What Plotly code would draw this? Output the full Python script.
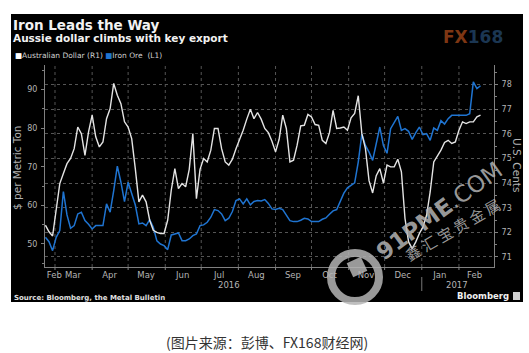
import math
import pandas as pd
import plotly.graph_objects as go

# ---------------- data ----------------
dates = pd.date_range("2016-02-22", periods=122, freq="3D")

aud_cents = [
    72.29, 72.02, 71.85, 72.83, 73.98, 74.39, 74.79, 75.00, 75.40, 76.28,
    76.01, 75.13, 76.08, 76.76, 75.88, 75.47, 75.67, 76.62, 77.03, 78.05,
    77.57, 77.23, 76.49, 76.28, 75.81, 74.59, 73.24, 73.51, 73.24, 72.49,
    72.08, 72.00, 71.95, 71.95, 72.49, 73.71, 74.59, 73.78, 73.98, 73.85,
    74.56, 76.01, 73.37, 74.56, 75.00, 74.86, 75.34, 76.22, 76.22, 75.40,
    74.86, 74.73, 74.97, 75.40, 75.74, 76.15, 76.60, 77.00, 76.62, 76.87,
    76.60, 76.22, 76.05, 75.70, 75.27, 75.78, 76.76, 76.22, 74.86, 74.93,
    75.54, 76.33, 76.35, 76.79, 76.69, 76.38, 76.35, 75.74, 75.61, 76.05,
    76.96, 76.22, 76.24, 76.28, 76.15, 76.65, 76.83, 77.55, 76.01, 75.40,
    74.10, 73.60, 74.30, 74.59, 74.00, 74.73, 74.66, 74.66, 74.97, 74.46,
    72.56, 71.61, 71.34, 71.61, 71.95, 72.22, 72.69, 73.64, 74.86, 75.10,
    75.34, 75.65, 75.74, 75.61, 75.67, 76.15, 76.49, 76.42, 76.49, 76.49,
    76.69, 76.76,
]

iron_ore = [
    51.73, 50.60, 48.27, 51.73, 53.46, 63.60, 57.53, 54.07, 54.76, 57.79,
    58.23, 56.06, 55.10, 53.90, 54.76, 54.76, 54.76, 60.40, 58.23, 63.85,
    70.17, 66.00, 61.00, 66.00, 62.70, 60.10, 55.20, 55.45, 54.76, 56.30,
    54.33, 50.80, 50.00, 49.57, 48.53, 52.34, 52.60, 52.86, 50.87, 50.87,
    51.30, 52.16, 52.60, 54.76, 54.94, 55.63, 56.93, 58.92, 58.66, 57.79,
    56.06, 56.67, 58.40, 61.26, 61.69, 60.39, 61.69, 60.13, 61.00, 61.26,
    61.17, 61.52, 60.50, 59.09, 58.92, 59.26, 58.92, 57.53, 56.06, 55.80,
    55.80, 56.15, 56.67, 56.50, 55.80, 55.80, 55.80, 56.41, 56.75, 57.70,
    58.57, 58.92, 60.82, 63.16, 64.55, 65.15, 65.84, 71.21, 78.50, 75.54,
    73.80, 71.65, 75.60, 80.30, 75.50, 73.50, 79.87, 81.40, 83.07, 79.44,
    79.87, 79.18, 77.10, 78.83, 80.30, 78.31, 78.57, 76.84, 80.04, 79.44,
    81.95, 81.08, 82.47, 83.33, 83.33, 83.33, 83.16, 83.33, 83.77, 91.99,
    90.26, 91.00,
]

month_tick_dates = ["2016-02-29 12:00", "2016-03-16", "2016-04-15 12:00", "2016-05-16",
                    "2016-06-15 12:00", "2016-07-16", "2016-08-16", "2016-09-15 12:00",
                    "2016-10-16", "2016-11-15 12:00", "2016-12-16", "2017-01-16",
                    "2017-02-14"]
month_tick_text = ["Feb", "Mar", "Apr", "May", "Jun", "Jul", "Aug", "Sep",
                   "Oct", "Nov", "Dec", "Jan", "Feb"]
month_start_dates = ["2016-03-01", "2016-04-01", "2016-05-01", "2016-06-01", "2016-07-01",
                     "2016-08-01", "2016-09-01", "2016-10-01", "2016-11-01", "2016-12-01",
                     "2017-01-01", "2017-02-01"]
year_label_dates = ["2016-07-24", "2017-01-30"]
year_labels = ["2016", "2017"]
left_ticks = [50, 60, 70, 80, 90]
right_ticks = [71, 72, 73, 74, 75, 76, 77, 78]

# ---------------- styling ----------------
W_FIG, H_FIG = 529, 353
L, T, PW, PH = 45, 65, 449, 202          # plot area in pixels
R_MARGIN = W_FIG - L - PW
B_MARGIN = H_FIG - T - PH


def px(x):
    return (x - L) / PW


def py(y):
    return (T + PH - y) / PH


AXIS_TXT = "#b4b4b4"
GRID = "#555555"
LINE = "#808080"
BLUE = "#1f74d1"
WHITE_LINE = "#e4e4e4"
FONT = "DejaVu Sans"
WM = "rgba(180,180,180,0.85)"

fig = go.Figure()
fig.add_trace(go.Scatter(x=dates, y=iron_ore, mode="lines", name="Iron Ore (L1)",
                         line=dict(color=BLUE, width=1.5), yaxis="y", showlegend=False))
fig.add_trace(go.Scatter(x=dates, y=aud_cents, mode="lines", name="Australian Dollar (R1)",
                         line=dict(color=WHITE_LINE, width=1.4), yaxis="y2", showlegend=False))

shapes = [
    # black chart panel
    dict(type="rect", xref="paper", yref="paper", x0=px(11), x1=px(523), y0=py(302), y1=py(14),
         fillcolor="black", line=dict(width=0), layer="below"),
    # year separator tick
    dict(type="line", xref="x", yref="paper", x0="2017-01-01", x1="2017-01-01",
         y0=py(277), y1=py(291), line=dict(color="#777777", width=1)),
    # Bloomberg icon
    dict(type="rect", xref="paper", yref="paper", x0=px(513), x1=px(520), y0=py(300), y1=py(292),
         fillcolor="#d0d0d0", line=dict(width=0)),
]

# vertical dotted gridlines at month starts
for d in month_start_dates:
    shapes.append(dict(type="line", xref="x", yref="paper", x0=d, x1=d, y0=0, y1=1,
                       line=dict(color=GRID, width=1, dash="dot"), layer="below"))
    shapes.append(dict(type="line", xref="x", yref="paper", x0=d, x1=d, y0=0, y1=-3 / PH,
                       line=dict(color=LINE, width=1)))

# watermark ring (decoration)
cx, cy, r = 355, 277, 24
shapes.append(dict(type="circle", xref="paper", yref="paper",
                   x0=px(cx - r), x1=px(cx + r), y0=py(cy + r), y1=py(cy - r),
                   line=dict(color=WM, width=8)))
sq = []
for k in range(4):
    a = math.radians(20 + 90 * k)
    sq.append((px(357 + 11 * math.cos(a)), py(267 + 11 * math.sin(a))))
shapes.append(dict(type="path", xref="paper", yref="paper",
                   path="M " + " L ".join(f"{a:.4f},{b:.4f}" for a, b in sq) + " Z",
                   fillcolor=WM, line=dict(width=0)))

ann = []


def add_text(text, x, y, size, color, xanchor="left", yanchor="middle", angle=0, family=FONT,
             xref="paper"):
    ann.append(dict(text=text, x=x, y=y, xref=xref, yref="paper", xanchor=xanchor,
                    yanchor=yanchor, showarrow=False, textangle=angle,
                    font=dict(family=family, size=size, color=color)))


add_text("<b>Iron Leads the Way</b>", px(11), py(24.5), 13.5, "#f2f2f2")
add_text("<b>Aussie dollar climbs with key export</b>", px(11), py(38), 10.5, "#f2f2f2")
add_text('<span style="color:#ffffff">■</span>Australian Dollar (R1)&nbsp;'
         '<span style="color:%s">■</span>Iron Ore&nbsp;&nbsp;(L1)' % BLUE,
         px(13), py(56), 7.5, "#d0d0d0")
add_text('<b><span style="color:#7e3613">FX</span><span style="color:#1b3652">168</span></b>',
         px(473), py(37), 17, "#1b3652", xanchor="center")
add_text("$ per Metric Ton", px(17), py(168), 10.5, AXIS_TXT, xanchor="center", angle=-90)
add_text("U.S. Cents", px(517), py(165), 10.5, AXIS_TXT, xanchor="center", angle=90)
for d, t in zip(year_label_dates, year_labels):
    add_text(t, d, py(284.5), 8.5, AXIS_TXT, xanchor="center", xref="x")
add_text("<b>Source: Bloomberg, the Metal Bulletin</b>", px(11.5), py(297.5), 7, "#e0e0e0")
add_text("<b>Bloomberg</b>", px(511), py(296), 8.5, "#f0f0f0", xanchor="right")
# watermark text
add_text("<b>91PME</b>.COM", px(439), py(211), 23, WM, xanchor="center", angle=-36)
add_text("鑫 汇 宝 贵 金 属", px(452), py(229), 15, WM, xanchor="center",
         angle=-30, family="Noto Sans CJK SC")
# caption below chart
add_text("(图片来源：彭博、FX168财经网)", px(267), py(341.5), 14, "#333333", xanchor="center",
         family="Noto Sans CJK SC")

fig.update_layout(
    width=W_FIG, height=H_FIG,
    margin=dict(l=L, r=R_MARGIN, t=T, b=B_MARGIN, pad=0),
    paper_bgcolor="white", plot_bgcolor="black",
    showlegend=False,
    font=dict(family=FONT, size=8, color=AXIS_TXT),
    xaxis=dict(
        type="date", range=["2016-02-21 16:00", "2017-03-02 06:00"],
        tickmode="array", tickvals=month_tick_dates, ticktext=month_tick_text,
        ticks="", showgrid=False, zeroline=False,
        showline=True, linecolor=LINE, linewidth=1,
        tickfont=dict(family=FONT, size=8.5, color=AXIS_TXT),
        fixedrange=True,
    ),
    yaxis=dict(
        range=[44.04, 96.37], tickmode="array", tickvals=left_ticks,
        ticks="outside", ticklen=3, tickcolor=LINE, showgrid=False, zeroline=False,
        showline=True, linecolor=LINE, linewidth=1, side="left",
        tickfont=dict(family=FONT, size=8, color=AXIS_TXT), ticklabelstandoff=2,
        minor=dict(dtick=5, tick0=45, ticks="outside", ticklen=2, tickcolor=LINE, showgrid=False),
    ),
    yaxis2=dict(
        range=[70.59, 78.80], overlaying="y", side="right", anchor="x",
        tickmode="array", tickvals=right_ticks,
        ticks="outside", ticklen=3, tickcolor=LINE,
        showgrid=True, gridcolor=GRID, griddash="dot", gridwidth=1, zeroline=False,
        showline=True, linecolor=LINE, linewidth=1,
        tickfont=dict(family=FONT, size=8, color=AXIS_TXT), ticklabelstandoff=2,
        minor=dict(dtick=0.5, tick0=70.5, ticks="outside", ticklen=2, tickcolor=LINE, showgrid=False),
    ),
    shapes=shapes,
    annotations=ann,
)

fig.write_html("out.html")
